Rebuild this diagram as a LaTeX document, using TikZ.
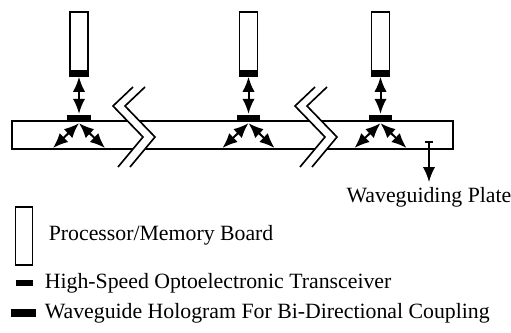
\documentclass[tikz,border=0pt]{standalone}
\usepackage{fontspec}
\setmainfont{Liberation Serif}
\usetikzlibrary{arrows.meta,positioning}

\begin{document}
\begin{tikzpicture}[
  x=0.03cm, y=-0.03cm,
  line width=1.4pt,
  >={Latex[length=4.5mm,width=3.7mm]},
  board/.style={draw, fill=white, minimum width=0.54cm, minimum height=1.92cm, inner sep=0pt},
  trx/.style={fill=black, minimum width=0.54cm, minimum height=0.19cm, inner sep=0pt},
  holo/.style={fill=black, minimum width=0.7cm, minimum height=0.23cm, inner sep=0pt},
  plate/.style={draw, minimum width=13.23cm, minimum height=0.84cm, inner sep=0pt},
  lbl/.style={font=\fontsize{18.6}{22}\selectfont, inner sep=0pt},
  arr/.style={<->, line width=1.7pt},
  one/.style={{Bar[width=2.6mm]}->},
]
\useasboundingbox (0,0) rectangle (511,332);

% waveguiding plate
\node[plate] (plate) at (232.5,135) {};

% boards, transceivers, holograms
\foreach \n/\x in {1/79, 2/248.5, 3/380.5} {
  \node[board] (board\n) at (\x,44) {};
  \node[trx, anchor=south] (trx\n) at (board\n.south) {};
  \node[holo] (holo\n) at (\x,118.5) {};
  \coordinate (bl\n) at (\x-26,148);
  \coordinate (br\n) at (\x+26,148);
  \draw[arr] (trx\n) -- (holo\n);
  \draw[arr] (holo\n.south) -- (bl\n);
  \draw[arr] (holo\n.south) -- (br\n);
}

% breaks in the plate
\foreach \bx in {113, 295} {
  \fill[white] (\bx+20,87) -- (\bx,106) -- (\bx+30,137) -- (\bx+5,167)
    -- (\bx+17,167) -- (\bx+42,137) -- (\bx+12,106) -- (\bx+32,87) -- cycle;
  \draw (\bx+20,87) -- (\bx,106) -- (\bx+30,137) -- (\bx+5,167);
  \draw (\bx+32,87) -- (\bx+12,106) -- (\bx+42,137) -- (\bx+17,167);
}

\coordinate (pin) at (429,141);
\coordinate (pend) at (429,182);
\node[lbl, below=0.15cm of pend] (platelbl) {Waveguiding Plate};
\draw[one] (pin) -- (pend);

% key
\node[board, minimum width=0.51cm, minimum height=1.74cm] (keyboard) at (24,236) {};
\node[lbl, anchor=base west] (keyboardtxt) at (48,240) {Processor/Memory Board};
\node[trx, minimum width=0.51cm] (keytrx) at (24,283) {};
\node[lbl, anchor=base west] (keytrxtxt) at (44,288) {High-Speed Optoelectronic Transceiver};
\node[holo, minimum width=0.75cm] (keyholo) at (23.5,313) {};
\node[lbl, anchor=base west] (keyholotxt) at (44,318) {Waveguide Hologram For Bi-Directional Coupling};
\end{tikzpicture}
\end{document}
